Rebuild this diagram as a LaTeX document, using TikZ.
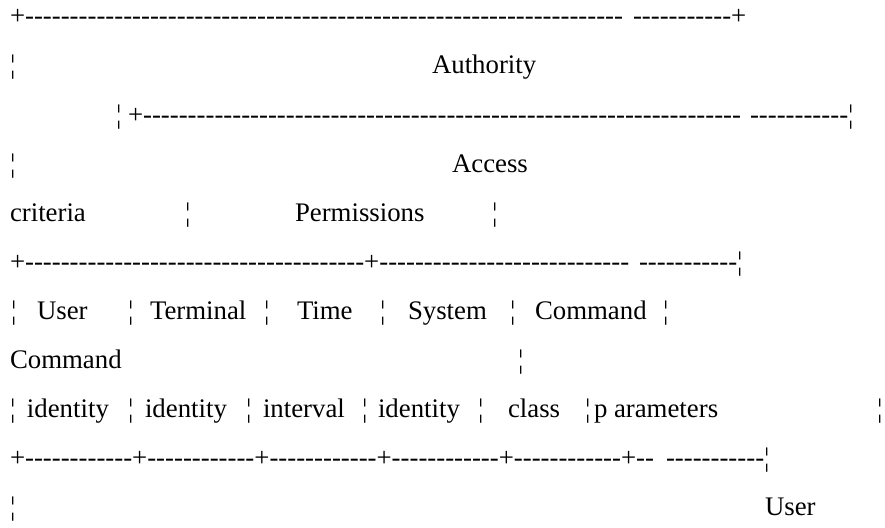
\documentclass[tikz,border=0pt]{standalone}
\usepackage{fontspec}
\setmainfont{Liberation Serif}[Ligatures=TeXOff]
\newcommand\dashrun[1]{\ifnum#1>0 -\expandafter\dashrun\expandafter{\the\numexpr#1-1\relax}\fi}
\newcommand\bbar{¦}
\tikzset{
    x=1pt,
    y=-1pt,
    txt/.style = {
        anchor=base west,
        inner sep=0pt,
        outer sep=0pt,
        font=\fontsize{26.8}{32}\selectfont
    },
}

\begin{document}
\begin{tikzpicture}
    \useasboundingbox (0,0) rectangle (885,527);

    % outer frame, top
    \node[txt] (topa) at (10,25) {+\dashrun{67}};
    \node[txt] (topb) at (633,25) {\dashrun{11}+};
    \node[txt] (authbar) at (10,74) {\bbar};
    \node[txt] (auth) at (432,74) {Authority};

    % inner frame
    \node[txt] (inbar) at (116,123) {\bbar};
    \node[txt] (ina) at (128,123) {+\dashrun{67}};
    \node[txt] (inb) at (750,123) {\dashrun{11}\bbar};
    \node[txt] (accbar) at (10,172) {\bbar};
    \node[txt] (access) at (452,172) {Access};
    \node[txt] (crit) at (10,221) {criteria};
    \node[txt] (critbar) at (185,221) {\bbar};
    \node[txt] (perm) at (295,221) {Permissions};
    \node[txt] (permbar) at (492,221) {\bbar};

    % field row
    \node[txt] (rowa) at (10,270) {+\dashrun{38}+\dashrun{28}};
    \node[txt] (rowb) at (639,270) {\dashrun{11}\bbar};
    \node[txt] (b1) at (11,319) {\bbar};
    \node[txt] (user) at (37,319) {User};
    \node[txt] (b2) at (128,319) {\bbar};
    \node[txt] (term) at (150,319) {Terminal};
    \node[txt] (b3) at (264,319) {\bbar};
    \node[txt] (time) at (297,319) {Time};
    \node[txt] (b4) at (380,319) {\bbar};
    \node[txt] (sys) at (408,319) {System};
    \node[txt] (b5) at (510,319) {\bbar};
    \node[txt] (cmd) at (535,319) {Command};
    \node[txt] (b6) at (663,319) {\bbar};
    \node[txt] (cmdb) at (10,368) {Command};
    \node[txt] (cmdbar) at (518,368) {\bbar};

    \node[txt] (c1) at (10,417) {\bbar};
    \node[txt] (uid) at (27,417) {identity};
    \node[txt] (c2) at (128,417) {\bbar};
    \node[txt] (tid) at (145,417) {identity};
    \node[txt] (c3) at (246,417) {\bbar};
    \node[txt] (ival) at (263,417) {interval};
    \node[txt] (c4) at (362,417) {\bbar};
    \node[txt] (sid) at (378,417) {identity};
    \node[txt] (c5) at (478,417) {\bbar};
    \node[txt] (cls) at (508,417) {class};
    \node[txt] (c6) at (585,417) {\bbar};
    \node[txt] (pp) at (594,417) {p};
    \node[txt] (params) at (614,417) {arameters};
    \node[txt] (c7) at (877,417) {\bbar};

    % field row, bottom
    \node[txt] (bota) at (10,466) {+\dashrun{12}+\dashrun{12}+\dashrun{12}+\dashrun{12}+\dashrun{12}+\dashrun{2}};
    \node[txt] (botb) at (666,466) {\dashrun{11}\bbar};
    \node[txt] (lastbar) at (10,515) {\bbar};
    \node[txt] (lastuser) at (765,515) {User};
\end{tikzpicture}
\end{document}
